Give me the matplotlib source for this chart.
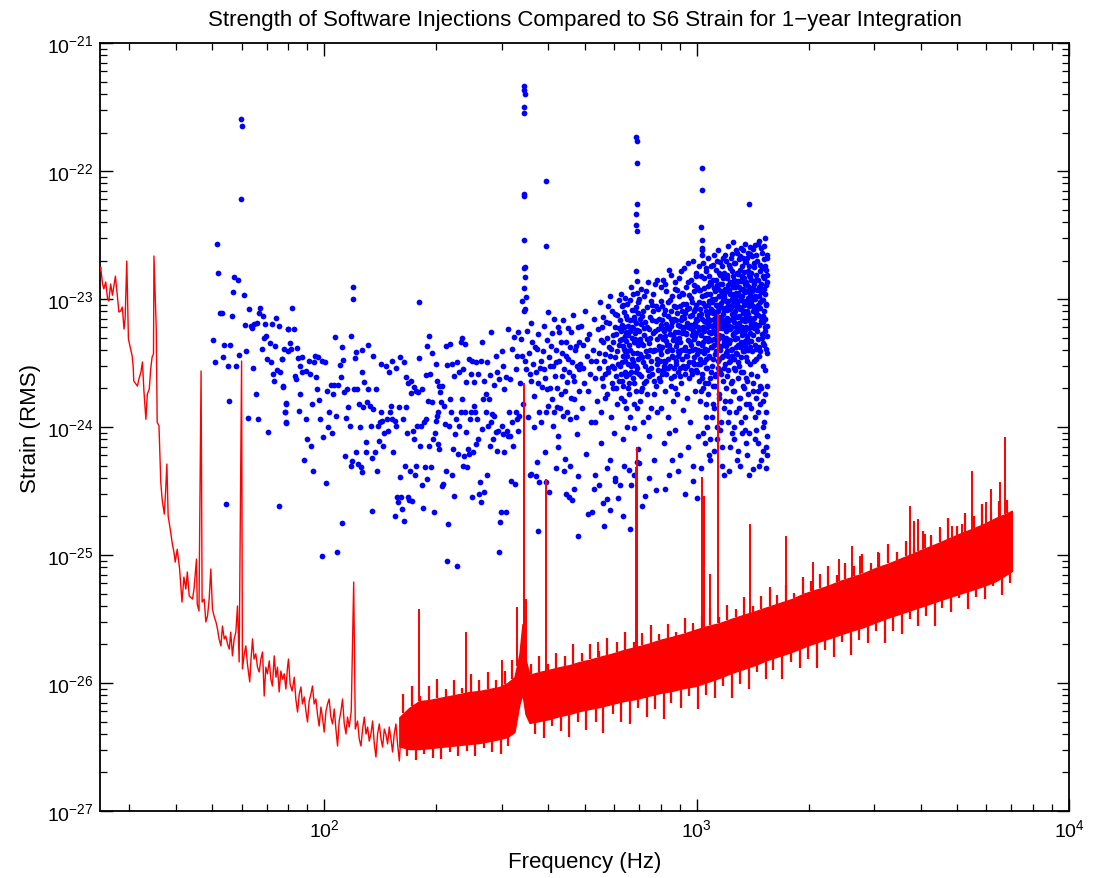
import matplotlib.pyplot as plt
import numpy as np

plt.rcParams['font.family'] = ['Liberation Sans', 'DejaVu Sans']
plt.rcParams['mathtext.fontset'] = 'custom'
plt.rcParams['mathtext.rm'] = 'Liberation Sans'
plt.rcParams['mathtext.it'] = 'Liberation Sans:italic'

# S6 strain noise, low frequency part (Hz, strain)
noise_low_freq = [25.0, 25.1, 25.4, 25.6, 25.9, 26.2, 26.4, 26.7, 27.0, 27.5, 27.8, 28.1, 28.4, 28.7,
                  29.0, 29.2, 29.5, 29.8, 30.2, 30.5, 30.7, 30.8, 31.2, 31.5, 31.8, 32.2, 32.5, 32.8,
                  33.2, 33.5, 33.9, 34.2, 34.5, 34.8, 34.9, 35.4, 35.6, 36.0, 36.4, 36.7, 37.2, 37.5,
                  37.8, 38.1, 38.7, 39.1, 39.5, 39.8, 40.3, 40.9, 41.5, 42.0, 42.5, 42.9, 43.4, 44.3,
                  44.7, 45.4, 45.6, 46.1, 46.7, 47.0, 47.6, 48.1, 48.6, 49.1, 49.6, 50.1, 50.6, 51.2,
                  51.7, 52.2, 52.8, 53.3, 53.9, 54.4, 55.0, 55.6, 56.1, 56.7, 57.3, 57.9, 58.5, 59.1,
                  60.0, 60.3, 61.0, 61.6, 62.2, 63.1, 63.6, 64.2, 64.8, 65.5, 66.2, 66.9, 67.6, 68.3,
                  69.0, 69.7, 70.4, 71.2, 71.9, 72.6, 73.4, 74.2, 74.9, 75.7, 76.5, 77.3, 78.1, 78.9,
                  79.7, 80.2, 81.0, 82.0, 83.1, 83.9, 84.8, 85.7, 86.6, 87.4, 88.4, 89.3, 90.2, 91.1,
                  92.1, 93.0, 94.0, 95.0, 95.9, 96.9, 98.0, 98.9, 100.0, 101.1, 102.1, 103.1, 104.2,
                  105.3, 106.4, 107.5, 108.6, 109.7, 110.9, 112.0, 113.2, 114.4, 115.5, 116.7, 118.2,
                  120.0, 121.2, 122.9, 124.2, 125.5, 126.8, 128.1, 129.5, 130.8, 132.1, 133.5, 134.9,
                  136.3, 137.7, 139.1, 140.6, 142.1, 143.5, 145.0, 146.6, 148.0, 149.5, 151.1, 152.6,
                  154.2, 155.8, 157.4, 159.1, 160.8]
noise_low_strain = [1.66e-23, 1.78e-23, 1.31e-23, 1.20e-23, 1.36e-23, 1.0e-23, 9.65e-24, 1.31e-23,
                    1.07e-23, 1.51e-23, 1.09e-23, 7.91e-24, 8.06e-24, 8.66e-24, 5.83e-24, 6.98e-24,
                    1.98e-23, 4.87e-24, 4.07e-24, 3.59e-24, 2.94e-24, 2.29e-24, 2.17e-24, 2.09e-24,
                    2.37e-24, 2.69e-24, 3.22e-24, 1.91e-24, 1.15e-24, 1.81e-24, 1.98e-24, 2.84e-24,
                    3.52e-24, 3.72e-24, 2.17e-23, 5.83e-24, 1.09e-24, 1.02e-24, 3.72e-25, 2.74e-25,
                    2.09e-25, 3.10e-25, 5.14e-25, 2.02e-25, 1.51e-25, 1.22e-25, 1.05e-25, 8.81e-26,
                    1.11e-25, 7.78e-26, 4.29e-26, 6.73e-26, 5.42e-26, 7.37e-26, 4.79e-26, 4.53e-26,
                    5.42e-26, 9.30e-26, 4.14e-26, 3.65e-26, 2.74e-24, 4.29e-26, 4.53e-26, 3.0e-26,
                    3.34e-26, 4.53e-26, 7.78e-26, 3.79e-26, 3.34e-26, 3.0e-26, 2.64e-26, 2.21e-26,
                    1.95e-26, 2.79e-26, 2.21e-26, 2.33e-26, 2.02e-26, 1.84e-26, 2.50e-26, 1.63e-26,
                    2.21e-26, 2.50e-26, 4.00e-26, 1.46e-26, 3.28e-24, 1.29e-26, 1.69e-26, 1.95e-26,
                    1.41e-26, 1.02e-26, 1.54e-26, 2.21e-26, 1.54e-26, 1.69e-26, 1.33e-26, 1.22e-26,
                    1.54e-26, 1.75e-26, 7.91e-27, 1.33e-26, 1.18e-26, 1.49e-26, 1.07e-26, 9.48e-27,
                    1.63e-26, 1.11e-26, 1.33e-26, 8.51e-27, 1.24e-26, 1.07e-26, 1.18e-26, 8.98e-27,
                    1.33e-26, 1.54e-26, 9.82e-27, 8.66e-27, 1.11e-26, 7.50e-27, 5.93e-27, 8.20e-27,
                    9.31e-27, 6.86e-27, 7.77e-27, 6.04e-27, 4.96e-27, 7.23e-27, 8.20e-27, 9.48e-27,
                    6.86e-27, 7.50e-27, 5.73e-27, 4.61e-27, 6.49e-27, 5.42e-27, 4.14e-27, 6.04e-27,
                    6.86e-27, 7.50e-27, 5.42e-27, 4.79e-27, 6.27e-27, 4.37e-27, 3.22e-27, 5.05e-27,
                    6.04e-27, 7.50e-27, 4.79e-27, 4.00e-27, 5.42e-27, 4.53e-27, 6.04e-27, 6.15e-26,
                    4.37e-27, 5.05e-27, 3.65e-27, 3.22e-27, 4.37e-27, 5.42e-27, 4.00e-27, 4.53e-27,
                    3.52e-27, 4.00e-27, 5.05e-27, 3.34e-27, 2.64e-27, 4.00e-27, 4.79e-27, 3.65e-27,
                    3.16e-27, 4.37e-27, 3.93e-27, 3.34e-27, 4.53e-27, 3.65e-27, 2.89e-27, 4.00e-27,
                    4.79e-27, 3.34e-27, 2.46e-27, 4.00e-27]

# S6 strain noise, dense part: upper and lower edge of the solid band
band_freq = [159.1, 169.2, 180.0, 191.6, 203.8, 216.8, 230.7, 245.4, 261.0, 277.6, 295.4, 310.4,
             324.2, 334.4, 340.7, 347.1, 355.8, 378.4, 402.5, 428.2, 455.5, 484.6, 515.6, 548.5,
             590.7, 636.5, 685.5, 738.5, 795.4, 856.6, 923.0, 993.8, 1070.5, 1153.1, 1242.1,
             1337.6, 1441.0, 1552.4, 1671.5, 1800.4, 1939.0, 2088.9, 2250.3, 2423.3, 2610.6,
             2812.3, 3028.7, 3261.6, 3513.9, 3784.4, 4075.4, 4390.8, 4728.3, 5093.1, 5485.2,
             5909.1, 6366.0, 6768.0, 7024.0]
band_upper = [5.4e-27, 6.4e-27, 7.23e-27, 7.36e-27, 7.64e-27, 7.91e-27, 8.20e-27, 8.51e-27,
              8.66e-27, 8.98e-27, 9.31e-27, 1.0e-26, 1.11e-26, 1.69e-26, 2.89e-26, 1.54e-26,
              1.16e-26, 1.22e-26, 1.27e-26, 1.33e-26, 1.38e-26, 1.46e-26, 1.52e-26, 1.60e-26,
              1.69e-26, 1.81e-26, 1.91e-26, 2.02e-26, 2.17e-26, 2.29e-26, 2.43e-26, 2.61e-26,
              2.79e-26, 2.94e-26, 3.18e-26, 3.41e-26, 3.65e-26, 3.93e-26, 4.22e-26, 4.53e-26,
              4.99e-26, 5.35e-26, 5.75e-26, 6.27e-26, 6.73e-26, 7.24e-26, 7.94e-26, 8.55e-26,
              9.35e-26, 1.02e-25, 1.12e-25, 1.22e-25, 1.34e-25, 1.47e-25, 1.60e-25, 1.75e-25,
              1.95e-25, 2.10e-25, 2.22e-25]
band_lower = [3.2e-27, 3.05e-27, 3.05e-27, 3.1e-27, 3.16e-27, 3.22e-27, 3.28e-27, 3.34e-27,
              3.40e-27, 3.52e-27, 3.65e-27, 3.79e-27, 4.14e-27, 6.86e-27, 8.20e-27, 5.73e-27,
              4.88e-27, 5.05e-27, 5.24e-27, 5.52e-27, 5.73e-27, 6.04e-27, 6.27e-27, 6.49e-27,
              6.86e-27, 7.23e-27, 7.50e-27, 7.91e-27, 8.35e-27, 8.66e-27, 9.14e-27, 9.48e-27,
              1.02e-26, 1.10e-26, 1.20e-26, 1.29e-26, 1.39e-26, 1.52e-26, 1.63e-26, 1.75e-26,
              1.91e-26, 2.07e-26, 2.22e-26, 2.39e-26, 2.57e-26, 2.74e-26, 2.99e-26, 3.24e-26,
              3.48e-26, 3.74e-26, 4.02e-26, 4.33e-26, 4.65e-26, 4.99e-26, 5.35e-26, 5.75e-26,
              6.27e-26, 7.0e-26, 7.5e-26]

# short noise excursions above and below the band
up_freq = [163.1, 172.4, 181.1, 191.6, 201.3, 212.8, 223.7, 235.1, 248.5, 261.0, 276.0, 290.0,
           306.6, 320.2, 360.2, 378.4, 400.0, 420.4, 444.4, 467.0, 493.7, 518.8, 548.5, 576.4,
           609.5, 640.4, 677.1, 711.5, 752.4, 790.5, 835.8, 878.4, 928.7, 975.9, 1032, 1084,
           1146, 1205, 1274, 1339, 1415, 1487, 1573, 1645, 1741, 1829, 1934, 2032, 2149, 2257,
           2387, 2508, 2652, 2786, 2946, 3097, 3275, 3443, 3641, 3827, 4047, 4254, 4498, 4728,
           5000, 5256, 5558, 5843, 6178, 6495, 6813]
up_val = [8.2e-27, 9.5e-27, 7.9e-27, 9.5e-27, 1.08e-26, 9.0e-27, 1.06e-26, 9.2e-27, 1.18e-26,
          1.06e-26, 1.23e-26, 1.06e-26, 1.25e-26, 1.50e-26, 1.42e-26, 1.64e-26, 1.42e-26, 1.73e-26,
          1.64e-26, 2.03e-26, 1.73e-26, 2.03e-26, 1.79e-26, 2.26e-26, 2.11e-26, 2.52e-26, 2.11e-26,
          2.48e-26, 2.86e-26, 2.43e-26, 2.91e-26, 2.52e-26, 3.24e-26, 2.96e-26, 3.35e-26, 3.88e-26,
          3.30e-26, 4.10e-26, 3.81e-26, 4.73e-26, 4.02e-26, 4.82e-26, 5.66e-26, 4.90e-26, 5.86e-26,
          5.08e-26, 6.78e-26, 6.27e-26, 7.14e-26, 8.23e-26, 7.0e-26, 8.7e-26, 8.23e-26, 1.02e-25,
          8.7e-26, 1.04e-25, 1.22e-25, 1.06e-25, 1.29e-25, 1.16e-25, 1.55e-25, 1.44e-25, 1.66e-25,
          1.95e-25, 1.69e-25, 2.14e-25, 2.03e-25, 2.51e-25, 2.18e-25, 2.65e-25, 2.70e-25]
down_freq = [167.0, 176.8, 185.7, 196.4, 206.4, 218.2, 229.3, 242.4, 254.7, 269.3, 282.9, 299.1,
             312.4, 369.2, 390.3, 410.1, 433.5, 455.5, 481.6, 506.1, 535.2, 562.3, 594.6, 624.7,
             660.5, 694.1, 734.0, 771.2, 815.5, 855.7, 906.0, 952.0, 1006, 1058, 1119, 1175, 1243,
             1306, 1380, 1451, 1535, 1602, 1696, 1789, 1894, 1988, 2102, 2211, 2339, 2457, 2597,
             2731, 2886, 3029, 3202, 3366, 3559, 3732, 3942, 4128, 4356, 4573, 4835, 5065, 5353,
             5626, 5947, 6252, 6607, 6940]
down_val = [2.69e-27, 2.5e-27, 2.8e-27, 2.6e-27, 2.55e-27, 2.9e-27, 2.7e-27, 2.95e-27, 2.7e-27,
            3.1e-27, 2.9e-27, 2.8e-27, 3.2e-27, 4.0e-27, 3.7e-27, 4.6e-27, 4.2e-27, 3.8e-27, 5.0e-27,
            4.3e-27, 5.0e-27, 4.1e-27, 5.7e-27, 5.0e-27, 4.8e-27, 6.4e-27, 5.4e-27, 6.3e-27, 5.2e-27,
            7.0e-27, 6.4e-27, 7.9e-27, 6.3e-27, 8.0e-27, 7.6e-27, 9.5e-27, 7.6e-27, 9.8e-27,
            9.0e-27, 1.22e-26, 1.08e-26, 1.27e-26, 1.08e-26, 1.46e-26, 1.32e-26, 1.55e-26, 1.30e-26,
            1.80e-26, 1.61e-26, 2.08e-26, 1.67e-26, 2.18e-26, 2.06e-26, 2.54e-26, 2.07e-26, 2.55e-26,
            2.43e-26, 3.16e-26, 2.80e-26, 3.35e-26, 2.80e-26, 3.85e-26, 3.60e-26, 4.60e-26, 3.82e-26,
            4.72e-26, 4.50e-26, 5.75e-26, 4.90e-26, 6.10e-26]

# narrow lines sticking out of the band (Hz, peak strain)
line_freq = [180, 240, 300, 329, 343, 345, 348, 394, 542, 686, 693, 1031, 1044, 1084, 1141,
             1388, 1741, 2050, 2409, 2606, 2742, 3061, 3737, 3831, 3929, 4102, 4838, 5157, 5483,
             5984, 6160, 6512, 6730]
line_peak = [3.8e-26, 2.5e-26, 1.5e-26, 3.9e-26, 1.6e-24, 2.2e-24, 4.5e-26, 3.9e-25, 2.1e-26,
             4.9e-25, 7.0e-25, 4.1e-25, 2.9e-25, 7.1e-26, 7.6e-24, 1.75e-25, 1.4e-25, 8.8e-26,
             9.3e-26, 1.18e-25, 9.8e-26, 1.05e-25, 2.4e-25, 1.84e-25, 1.9e-25, 1.46e-25, 1.69e-25,
             1.75e-25, 4.5e-25, 2.6e-25, 3.3e-25, 3.7e-25, 8.3e-25]

# software injections: (frequency Hz, strain in units of 1e-24)
inj_50_80 = [(50.4, 4.8), (51.0, 3.2), (51.4, 27), (51.9, 16), (52.5, 7.8), (53.0, 7.8), (53.4, 3.5),
             (53.9, 4.4), (55.0, 3.0), (55.6, 1.6), (54.4, 0.25), (55.9, 4.4), (56.5, 7.4),
             (56.9, 11.3), (57.4, 14.9), (58.5, 14.1), (58.0, 3.0), (59.0, 3.65), (59.9, 255),
             (60.2, 225), (59.9, 60), (61.0, 10.7), (61.4, 6.3), (61.8, 3.9), (62.5, 1.18),
             (62.9, 8.35), (63.5, 6.15), (63.9, 5.9), (64.4, 2.9), (64.8, 6.4), (65.8, 6.5),
             (65.4, 1.8), (66.5, 1.15), (66.9, 7.8), (67.3, 8.5), (67.9, 4.1), (68.4, 7.4), (68.8, 5.0),
             (69.7, 5.15), (69.4, 6.4), (70.4, 3.4), (70.8, 0.91), (71.5, 4.5), (71.9, 3.2), (72.3, 6.4),
             (72.9, 2.6), (73.4, 2.3), (73.8, 4.3), (74.4, 7.1), (74.9, 2.8), (76.2, 2.7), (75.4, 0.24),
             (75.8, 6.15), (77.0, 3.4), (77.3, 2.1), (78.1, 4.1), (78.4, 1.3), (78.9, 1.07),
             (79.2, 1.5), (79.9, 5.8), (80.0, 3.9)]
inj_80_115 = [(77.1, 3.40), (77.6, 2.05), (78.6, 1.30), (79.1, 1.09), (79.1, 1.54), (80.0, 5.83),
              (81.0, 4.52), (81.5, 4.07), (82.0, 8.5), (83.1, 5.83), (83.6, 2.50), (84.2, 2.37),
              (84.7, 4.15), (85.2, 3.46), (85.7, 1.33), (86.2, 3.0), (86.2, 1.81), (87.2, 2.70),
              (87.2, 3.5), (88.4, 0.555), (89.4, 2.75), (89.4, 1.16), (90.0, 0.81), (91.1, 3.27),
              (91.7, 2.60), (92.3, 0.71), (92.9, 1.51), (93.4, 0.455), (94.0, 3.22), (94.6, 3.6),
              (95.2, 2.46), (95.8, 1.98), (96.3, 3.5), (96.9, 1.63), (97.5, 1.16), (98.8, 0.098),
              (98.8, 3.27), (99.4, 0.84), (100.6, 3.22), (101.2, 0.365), (101.9, 1.91), (102.5, 1.0),
              (103.1, 1.30), (104.4, 2.13), (105.1, 0.90), (105.7, 1.81), (106.4, 2.13), (107.1, 5.05),
              (107.7, 1.22), (108.4, 0.106), (109.0, 2.13), (110.4, 3.05), (111.1, 2.46),
              (111.8, 0.178), (111.8, 4.22), (112.5, 3.33), (113.2, 1.88), (113.9, 0.59), (114.6, 1.18)]
inj_115_215 = [(115.3, 1.98), (116.0, 1.44), (117.4, 1.02), (118.2, 0.50), (118.2, 5.15), (118.9, 0.545),
               (119.6, 10.0), (119.6, 12.4), (120.4, 1.98), (121.1, 3.46), (121.9, 0.64), (121.9, 3.86),
               (122.7, 1.98), (123.4, 0.516), (124.2, 1.51), (125.0, 1.0), (125.7, 0.49), (126.5, 0.446),
               (126.5, 2.7), (127.3, 1.44), (128.1, 2.25), (129.7, 0.77), (129.7, 0.64), (130.5, 1.57),
               (131.3, 1.98), (132.9, 1.46), (133.7, 1.02), (134.6, 0.222), (134.6, 0.575), (135.4, 1.38),
               (137.1, 0.64), (137.9, 1.98), (138.8, 0.45), (139.7, 1.02), (140.6, 0.78), (141.4, 1.10),
               (142.3, 1.30), (143.2, 1.12), (144.1, 0.71), (145.0, 0.90), (146.8, 3.0), (147.7, 1.16),
               (148.6, 0.93), (149.5, 2.7), (150.4, 1.30), (151.4, 1.45), (152.3, 1.16), (153.2, 0.64),
               (155.2, 1.12), (155.2, 0.20), (156.2, 1.02), (157.1, 0.285), (158.1, 0.26), (159.1, 1.44),
               (160.1, 0.41), (161.1, 0.285), (162.1, 0.23), (163.1, 1.16), (164.1, 0.185), (165.1, 0.50),
               (166.1, 1.44), (167.1, 0.90), (168.2, 0.285), (169.2, 0.27), (170.3, 0.45), (171.4, 2.28),
               (172.4, 0.265), (173.5, 0.93), (174.6, 0.81), (175.7, 0.42), (176.8, 0.50), (177.8, 1.02),
               (178.9, 1.88), (180.0, 9.5), (181.1, 0.71), (182.3, 1.02), (183.4, 0.353), (184.6, 0.234),
               (185.7, 1.10), (186.9, 0.49), (188.0, 1.16), (189.2, 0.394), (190.4, 1.60), (191.6, 0.71),
               (192.8, 2.6), (194.0, 0.49), (195.2, 1.57), (196.4, 0.81), (197.6, 0.218), (198.8, 0.90),
               (200.0, 1.12), (201.3, 1.22), (201.8, 1.30), (202.5, 0.74), (203.8, 0.675), (205.1, 1.88),
               (206.4, 1.57), (207.6, 0.347), (208.9, 0.36), (210.2, 1.46), (211.5, 1.06),
               (142.3, 3.1), (152.3, 3.3), (156.2, 2.9), (160.1, 3.5), (135.4, 3.6), (131.3, 4.4),
               (126.5, 4.0)]
inj_215_335 = [(212.8, 0.45), (214.2, 0.090), (215.5, 0.175), (216.8, 1.02), (218.2, 1.66), (219.6, 1.30),
               (220.9, 0.42), (221.5, 0.675), (223.7, 0.29), (225.1, 0.884), (226.5, 1.16), (227.9, 0.082),
               (229.3, 0.617), (230.7, 1.02), (233.6, 1.30), (235.1, 1.66), (236.5, 0.50), (238.0, 0.59),
               (239.5, 1.30), (240.9, 0.92), (242.4, 0.49), (243.9, 0.675), (245.4, 0.617), (247.0, 1.16),
               (248.5, 1.30), (250.1, 0.285), (251.6, 0.64), (253.2, 1.46), (254.7, 1.30), (256.3, 0.739),
               (257.9, 1.16), (259.4, 0.81), (261.0, 0.30), (262.7, 0.37), (264.3, 0.26), (266.0, 0.97),
               (267.6, 1.66), (269.3, 0.31), (272.6, 1.30), (274.3, 0.42), (276.0, 1.02), (277.6, 1.66),
               (279.4, 0.71), (281.2, 1.10), (282.9, 1.27), (284.7, 0.81), (286.4, 1.22), (289.9, 0.92),
               (291.7, 0.65), (293.5, 0.93), (295.4, 0.106), (297.2, 0.18), (299.1, 0.218), (300.9, 1.02),
               (302.8, 0.884), (304.7, 0.64), (308.5, 0.218), (310.4, 0.93), (312.4, 0.85), (314.3, 1.30),
               (316.3, 0.85), (318.2, 0.38), (320.2, 1.10), (322.2, 0.71), (326.2, 0.36), (328.2, 1.30),
               (330.3, 1.16), (332.3, 0.93), (334.4, 1.22)]
inj_upper_165_335 = [(164.1, 3.22), (166.1, 2.46), (168.2, 2.2), (171.4, 1.85), (174.6, 2.06), (176.8, 1.91),
                     (180.0, 3.46), (183.4, 1.98), (188.0, 2.55), (189.2, 4.3), (191.6, 5.15), (195.2, 3.78),
                     (200.0, 3.11), (201.3, 2.28), (203.8, 2.09), (207.6, 2.09), (212.8, 4.3), (214.2, 3.05),
                     (218.2, 4.45), (220.9, 3.11), (223.7, 2.50), (227.9, 3.22), (230.7, 2.70), (233.6, 4.6),
                     (235.1, 5.0), (236.5, 2.84), (239.5, 4.45), (240.9, 2.25), (245.4, 3.40), (248.5, 2.60),
                     (250.1, 3.3), (253.2, 2.25), (256.3, 3.22), (259.4, 2.60), (264.3, 3.3), (266.0, 4.6),
                     (269.3, 2.28), (272.6, 1.81), (274.3, 3.22), (279.4, 2.55), (281.2, 5.5), (286.4, 2.13),
                     (289.9, 3.6), (291.7, 2.70), (295.4, 2.37), (300.9, 3.9), (301.8, 3.0), (304.7, 1.98),
                     (308.5, 2.46), (312.4, 5.83), (316.3, 2.37), (320.2, 4.07), (324.2, 5.05), (328.2, 2.84),
                     (330.3, 3.6), (332.3, 5.5)]
inj_335_485 = [(338.2, 4.87), (340.2, 3.6), (348.6, 2.84), (355.8, 3.8), (360.2, 2.28), (362.5, 4.6),
               (367.0, 1.75), (371.5, 2.70), (373.8, 4.07), (378.4, 1.30), (383.1, 3.3), (385.5, 2.05),
               (390.3, 2.84), (395.1, 1.30), (397.5, 1.98), (400.0, 7.9), (405.0, 3.0), (407.6, 4.3),
               (410.1, 1.66), (412.7, 1.02), (415.2, 6.98), (417.8, 2.50), (420.4, 3.22), (423.0, 1.44),
               (425.6, 0.85), (428.2, 5.5), (433.5, 1.81), (436.2, 3.8), (437.5, 1.22), (441.7, 2.84),
               (444.4, 0.564), (447.1, 4.6), (449.9, 2.25), (452.7, 3.40), (455.5, 0.285), (458.3, 1.16),
               (461.2, 5.5), (464.0, 0.27), (466.9, 2.50), (469.9, 1.66), (475.7, 4.3), (478.6, 0.884),
               (480.0, 0.142), (481.6, 0.415), (483.0, 2.84), (376.1, 0.155), (402.5, 0.31), (378.4, 0.373),
               (373.8, 0.53), (371.5, 0.415), (392.7, 0.64),
               (336, 2.2), (341, 1.5), (346, 3.3), (350, 5.6), (352, 1.2), (357, 2.6), (359, 6.5), (364, 3.1),
               (366, 1.0), (369, 4.2), (374, 2.2), (376, 5.3), (380, 2.9), (382, 1.1), (387, 3.9), (389, 6.2),
               (392, 2.4), (396, 4.8), (399, 1.45), (402, 3.5), (404, 2.0), (409, 5.4), (411, 3.0), (414, 1.3),
               (418, 4.0), (421, 2.0), (424, 6.0), (427, 3.3), (430, 1.4), (432, 4.6), (435, 2.5), (439, 6.8),
               (442, 1.9), (445, 3.6), (448, 1.3), (451, 5.9), (454, 2.7), (457, 4.2), (460, 1.7), (463, 3.2),
               (465, 7.5), (468, 2.3), (471, 4.0), (473, 1.2), (477, 3.0), (479, 6.1), (482, 1.9), (484, 4.6),
               (424, 0.7), (440, 0.45), (456, 0.5), (470, 0.33), (395, 0.37), (360, 0.43), (356, 0.42),
               (418, 0.48), (447, 0.3)]
inj_tall_columns = [(345, 460), (344, 430), (346, 400), (345, 316), (345, 284), (344, 66), (345, 64),
                    (345, 29), (343, 17.5), (347, 17.8), (347, 14.9), (344, 12.2), (349, 10.4), (339, 9.6),
                    (344, 8.1), (346, 8.4), (394, 84), (394, 26),
                    (688, 185), (693, 171), (693, 115), (693, 55), (689, 46), (689, 38), (690, 34),
                    (689, 16.6), (690, 13.8), (691, 11.1),
                    (1031, 105), (1033, 71), (1030, 36.5), (1032, 29), (1034, 24), (1031, 22), (1386, 55)]
inj_485_620 = [(487, 3.1), (489, 6.2), (492, 1.4), (496, 4.4), (499, 2.2), (503, 8.1), (505, 0.62), (507, 3.6),
               (511, 1.9), (515, 5.3), (518, 2.6), (522, 1.1), (526, 4.0), (529, 7.0), (531, 0.33), (533, 2.4),
               (537, 3.3), (540, 1.6), (544, 5.8), (548, 2.9), (551, 9.5), (553, 0.75), (555, 1.3), (559, 4.6),
               (562, 2.1), (566, 3.7), (570, 6.6), (573, 1.8), (575, 0.48), (577, 2.7), (581, 4.2),
               (584, 10.5), (588, 1.2), (592, 3.0), (595, 5.2), (597, 2.0), (599, 0.9), (603, 7.6), (606, 2.5),
               (610, 3.9), (613, 1.5), (615, 0.28), (617, 5.9), (620, 2.3), (494, 2.9), (509, 4.9), (520, 3.3),
               (535, 1.1), (546, 3.8), (557, 6.0), (568, 2.6), (579, 8.8), (590, 4.1), (601, 2.9), (608, 5.3),
               (619, 9.8), (512, 0.21), (564, 0.17), (586, 0.55), (604, 0.38), (525, 0.215), (559, 0.255),
               (584, 0.226), (576, 0.275), (548, 0.355), (532, 0.42),
               (552, 4.8), (556, 2.4), (561, 7.2), (565, 3.3), (569, 1.7), (574, 5.0), (578, 2.9), (583, 6.5),
               (587, 3.6), (591, 8.0), (594, 2.2), (598, 4.6), (602, 6.0), (605, 3.5), (609, 2.0), (612, 7.5),
               (616, 3.1), (618, 4.4)]
inj_620_800 = [(623, 4.8), (625, 1.7), (627, 11.0), (629, 3.2), (631, 6.3), (633, 2.1), (636, 0.8), (638, 4.1),
               (640, 7.9), (642, 2.7), (645, 1.4), (647, 5.5), (649, 3.6), (652, 9.2), (654, 2.0), (657, 0.46),
               (659, 4.4), (661, 6.9), (664, 1.2), (666, 3.0), (668, 12.5), (671, 5.0), (673, 2.4), (676, 3.8),
               (678, 0.98), (681, 7.3), (683, 4.6), (686, 1.9), (688, 8.6), (691, 2.9), (693, 5.7), (696, 0.67),
               (698, 3.4), (701, 10.0), (703, 1.6), (706, 4.9), (709, 2.5), (711, 6.4), (714, 3.5), (716, 1.1),
               (719, 8.1), (722, 2.2), (724, 5.2), (727, 0.29), (730, 3.9), (732, 11.5), (735, 1.8), (738, 6.0),
               (741, 2.8), (743, 4.5), (746, 0.85), (749, 7.2), (752, 3.3), (755, 1.4), (758, 9.0), (761, 2.6),
               (764, 5.4), (767, 0.55), (770, 4.0), (773, 13.0), (776, 2.1), (779, 6.7), (782, 3.1), (785, 1.3),
               (788, 8.4), (791, 4.3), (794, 2.4), (634, 0.2), (665, 0.35), (712, 0.24), (745, 0.4),
               (780, 0.32), (700, 0.52), (628, 2.6), (644, 3.9), (660, 2.2), (675, 5.9), (690, 3.8),
               (705, 7.0), (720, 4.4), (736, 3.6), (750, 5.0), (765, 8.0), (784, 4.9), (650, 1.0), (680, 1.5),
               (710, 1.9), (740, 1.2), (770, 1.8), (661, 0.16), (621, 0.355), (602, 0.40), (677, 0.42),
               (690, 0.53), (640, 0.50),
               (622, 3.0), (626, 5.6), (630, 2.3), (632, 8.8), (635, 4.3), (637, 1.6), (639, 6.1), (641, 3.3),
               (643, 10.2), (646, 2.5), (648, 4.7), (651, 7.0), (653, 3.1), (655, 5.2), (658, 1.8), (662, 4.0),
               (663, 9.9), (667, 2.7), (669, 6.0), (672, 3.4), (674, 11.0), (677, 4.6), (679, 2.2), (682, 5.4),
               (684, 8.2), (687, 3.0), (689, 6.5), (692, 1.4), (694, 4.4), (697, 9.4), (699, 2.6), (702, 5.6),
               (704, 3.7), (707, 12.0), (710, 4.5), (713, 2.0), (715, 7.4), (718, 3.2), (721, 5.9), (723, 10.5),
               (726, 3.0), (728, 6.6), (731, 2.3), (734, 4.9), (737, 8.6), (739, 3.6), (742, 13.5), (744, 2.5),
               (747, 5.8), (751, 4.0), (753, 9.7), (756, 2.9), (759, 6.8), (762, 3.9), (766, 11.0), (768, 2.3),
               (771, 5.6), (774, 4.0), (777, 8.9), (781, 3.4), (783, 14.0), (786, 5.8), (789, 2.8), (792, 7.0),
               (624, 6.8), (629, 4.9), (633, 9.0), (636, 3.6), (641, 5.1), (645, 7.4), (650, 3.9), (656, 6.2),
               (659, 2.6), (664, 5.6), (670, 8.2), (674, 3.2), (678, 6.9), (685, 4.9), (688, 2.7), (695, 7.8),
               (699, 4.7)]
inj_800_1020 = [(796, 5.1), (798, 2.3), (800, 9.6), (802, 3.7), (804, 1.4), (806, 6.8), (808, 4.2), (810, 14.0),
                (812, 2.8), (815, 0.75), (817, 5.6), (819, 3.3), (821, 8.2), (823, 1.9), (826, 4.7), (828, 11.5),
                (830, 2.6), (832, 6.1), (835, 3.9), (837, 1.2), (839, 7.4), (841, 4.4), (844, 0.42), (846, 9.9),
                (848, 3.0), (850, 5.3), (853, 2.1), (855, 15.5), (857, 4.0), (860, 6.6), (862, 1.6), (864, 3.5),
                (867, 8.8), (869, 5.0), (871, 2.5), (874, 0.95), (876, 12.0), (878, 4.3), (881, 6.9), (883, 3.1),
                (885, 1.8), (888, 7.8), (890, 5.5), (893, 2.7), (895, 10.5), (897, 3.8), (900, 0.6), (902, 6.2),
                (905, 4.6), (907, 16.5), (909, 2.2), (912, 8.0), (914, 3.4), (917, 5.8), (919, 1.35), (922, 11.0),
                (924, 4.1), (927, 7.1), (929, 2.9), (932, 0.3), (934, 5.4), (937, 9.1), (939, 3.6), (942, 6.5),
                (944, 1.7), (947, 13.5), (949, 4.8), (952, 2.4), (954, 8.5), (957, 3.9), (959, 5.9), (962, 1.1),
                (965, 10.2), (967, 4.4), (970, 7.5), (972, 2.6), (975, 0.5), (977, 6.0), (980, 3.2), (983, 12.8),
                (985, 4.9), (988, 1.9), (990, 8.3), (993, 5.1), (996, 2.8), (998, 15.0), (1001, 3.7), (1004, 6.8),
                (1006, 0.85), (1009, 4.5), (1012, 9.5), (1014, 2.3), (1017, 5.7), (799, 4.0), (811, 5.8),
                (825, 3.2), (838, 2.9), (851, 7.0), (863, 5.2), (877, 2.0), (889, 3.6), (903, 2.5), (916, 7.2),
                (930, 4.0), (943, 3.0), (956, 6.3), (969, 5.2), (982, 3.5), (995, 7.0), (1008, 3.1),
                (1018, 11.8), (820, 0.33), (858, 0.55), (892, 0.45), (948, 0.7), (978, 0.38), (1003, 0.28),
                (842, 0.9),
                (797, 3.3), (801, 6.3), (803, 12.5), (807, 2.6), (809, 8.9), (813, 4.9), (816, 3.0), (818, 7.6),
                (822, 5.1), (824, 13.0), (827, 2.9), (829, 6.4), (833, 4.4), (836, 9.5), (840, 3.4), (843, 5.8),
                (845, 17.0), (849, 4.1), (852, 8.1), (854, 2.4), (856, 6.2), (859, 3.6), (861, 10.5), (865, 4.8),
                (868, 7.0), (870, 2.9), (873, 13.5), (875, 5.5), (879, 3.3), (880, 8.7), (884, 4.6), (886, 11.8),
                (891, 6.3), (894, 3.9), (896, 14.5), (899, 5.0), (901, 8.9), (904, 2.9), (906, 6.8), (910, 4.0),
                (911, 11.2), (915, 5.4), (918, 3.0), (920, 9.2), (923, 6.1), (925, 17.5), (928, 4.2), (931, 7.8),
                (933, 2.6), (936, 12.5), (938, 5.3), (941, 3.6), (945, 8.4), (946, 19.0), (950, 6.0), (953, 3.2),
                (955, 10.8), (958, 4.6), (961, 7.4), (963, 14.0), (966, 2.8), (968, 6.3), (971, 9.4), (974, 4.0),
                (976, 20.0), (979, 5.6), (981, 8.0), (984, 3.1), (987, 11.5), (989, 6.5), (992, 4.1), (994, 16.0),
                (997, 5.4), (999, 9.0), (1002, 2.7), (1005, 12.5), (1007, 6.0), (1010, 4.0), (1013, 18.0),
                (1016, 7.5), (1019, 3.4)]
inj_1020_1200 = [(1021, 8.4), (1023, 3.1), (1025, 15.0), (1027, 5.2), (1029, 1.9), (1031, 10.5), (1033, 4.4),
                 (1035, 7.0), (1037, 2.6), (1039, 19.0), (1041, 6.1), (1043, 0.9), (1045, 3.8), (1047, 12.2),
                 (1049, 5.6), (1051, 2.2), (1053, 8.9), (1055, 4.1), (1057, 16.5), (1059, 6.6), (1061, 1.5),
                 (1063, 3.4), (1065, 11.0), (1067, 7.5), (1069, 2.9), (1071, 5.0), (1073, 21.0), (1075, 4.7),
                 (1077, 0.6), (1079, 9.6), (1081, 3.6), (1083, 6.3), (1085, 13.5), (1087, 2.4), (1089, 7.9),
                 (1091, 4.2), (1093, 18.0), (1095, 5.4), (1097, 1.2), (1099, 10.0), (1026, 0.48), (1056, 0.75),
                 (1084, 0.55), (1036, 25.0), (1066, 1.0),
                 (1101, 6.2), (1103, 3.0), (1105, 14.0), (1107, 8.1), (1109, 2.1), (1111, 4.9), (1113, 22.0),
                 (1115, 7.0), (1117, 1.4), (1119, 11.5), (1121, 5.5), (1123, 3.7), (1125, 17.0), (1127, 9.0),
                 (1129, 2.6), (1131, 6.8), (1133, 0.8), (1135, 12.8), (1137, 4.5), (1139, 8.6), (1141, 24.0),
                 (1143, 3.3), (1145, 5.9), (1147, 1.8), (1149, 10.5), (1151, 7.3), (1153, 15.5), (1155, 2.8),
                 (1157, 4.0), (1159, 19.5), (1161, 6.4), (1163, 1.1), (1165, 9.3), (1167, 3.5), (1169, 13.0),
                 (1171, 5.1), (1173, 0.5), (1175, 7.7), (1177, 21.0), (1179, 2.3), (1181, 11.0), (1183, 4.6),
                 (1185, 8.2), (1187, 16.0), (1189, 3.1), (1191, 6.0), (1193, 1.6), (1195, 12.0), (1197, 5.0),
                 (1199, 9.7), (1112, 0.65), (1158, 0.95), (1186, 0.42),
                 (1022, 5.8), (1024, 11.8), (1028, 3.9), (1030, 7.6), (1034, 2.4), (1038, 9.3), (1040, 4.6),
                 (1044, 14.5), (1046, 6.7), (1050, 3.2), (1052, 10.8), (1054, 5.0), (1058, 8.0), (1060, 2.9),
                 (1062, 17.5), (1064, 6.0), (1068, 4.0), (1070, 12.6), (1072, 7.0), (1074, 2.2), (1076, 9.0),
                 (1078, 5.5), (1080, 15.0), (1082, 3.5), (1086, 6.9), (1088, 11.0), (1090, 4.8), (1092, 8.3),
                 (1094, 2.7), (1096, 13.0), (1098, 6.2), (1100, 4.2), (1102, 9.4), (1104, 5.6), (1106, 18.5),
                 (1108, 3.4), (1110, 7.8), (1114, 12.3), (1116, 4.4), (1118, 6.5), (1120, 2.5), (1122, 10.0),
                 (1124, 5.3), (1126, 14.0), (1128, 7.5), (1130, 3.9), (1132, 20.0), (1134, 6.0), (1136, 9.0),
                 (1138, 2.9), (1140, 12.0), (1142, 4.9), (1144, 8.1), (1146, 16.0), (1148, 5.2), (1150, 3.4),
                 (1152, 10.6), (1154, 6.8), (1156, 13.0), (1160, 4.3), (1162, 8.6), (1164, 2.6), (1166, 11.5),
                 (1168, 5.9), (1170, 18.0), (1172, 7.0), (1174, 3.6), (1176, 9.8), (1178, 5.0), (1180, 14.5),
                 (1182, 6.4), (1184, 2.9), (1188, 10.4), (1190, 4.7), (1192, 8.5), (1194, 22.0), (1196, 3.8),
                 (1198, 6.9),
                 (1024, 1.6), (1042, 2.0), (1058, 1.2), (1070, 1.8), (1088, 0.8), (1104, 1.5), (1118, 2.1),
                 (1134, 1.0), (1150, 1.7), (1168, 0.7), (1182, 1.4), (1196, 2.0)]
inj_1200_1400 = [(1201, 20.0), (1203, 4.3), (1205, 7.1), (1207, 2.5), (1209, 14.5), (1211, 9.0), (1213, 3.6),
                 (1215, 5.8), (1217, 26.0), (1219, 1.3), (1221, 11.8), (1223, 6.9), (1225, 3.2), (1227, 17.5),
                 (1229, 8.4), (1231, 4.8), (1233, 0.7), (1235, 13.2), (1237, 6.1), (1239, 2.2), (1241, 22.5),
                 (1243, 10.0), (1245, 4.1), (1247, 7.6), (1249, 1.9), (1251, 15.0), (1253, 5.3), (1255, 9.8),
                 (1257, 3.4), (1259, 19.0), (1261, 6.6), (1263, 1.0), (1265, 12.5), (1267, 8.0), (1269, 2.8),
                 (1271, 4.9), (1273, 24.0), (1275, 7.2), (1277, 3.8), (1279, 11.2), (1281, 0.55), (1283, 16.0),
                 (1285, 5.6), (1287, 9.1), (1289, 2.4), (1291, 13.8), (1293, 6.3), (1295, 4.4), (1297, 20.5),
                 (1299, 8.7), (1222, 0.45), (1262, 0.8), (1296, 1.4), (1250, 28.0),
                 (1301, 3.0), (1303, 10.8), (1305, 6.0), (1307, 17.0), (1309, 1.7), (1311, 8.3), (1313, 4.6),
                 (1315, 25.0), (1317, 12.0), (1319, 2.7), (1321, 7.0), (1323, 14.8), (1325, 5.2), (1327, 0.9),
                 (1329, 9.6), (1331, 21.0), (1333, 3.9), (1335, 6.8), (1337, 11.5), (1339, 2.0), (1341, 16.2),
                 (1343, 8.0), (1345, 4.3), (1347, 27.0), (1349, 5.7), (1351, 1.2), (1353, 13.0), (1355, 7.4),
                 (1357, 3.5), (1359, 19.5), (1361, 9.2), (1363, 0.6), (1365, 5.0), (1367, 12.8), (1369, 2.3),
                 (1371, 23.0), (1373, 6.9), (1375, 10.2), (1377, 4.0), (1379, 15.5), (1381, 1.5), (1383, 8.8),
                 (1385, 18.0), (1387, 5.4), (1389, 3.1), (1391, 11.0), (1393, 25.5), (1395, 7.1), (1397, 2.6),
                 (1399, 14.0), (1310, 0.5), (1354, 0.75), (1380, 0.42),
                 (1200, 11.5), (1202, 5.6), (1204, 15.5), (1206, 3.9), (1208, 8.2), (1210, 4.9), (1212, 12.8),
                 (1214, 6.3), (1216, 2.8), (1218, 9.6), (1220, 18.5), (1224, 4.5), (1226, 10.9), (1228, 5.8),
                 (1230, 13.5), (1232, 3.3), (1234, 8.7), (1236, 21.0), (1238, 6.0), (1240, 4.0), (1242, 11.0),
                 (1244, 7.0), (1246, 16.5), (1248, 3.6), (1252, 9.2), (1254, 5.2), (1256, 12.5), (1258, 7.6),
                 (1260, 2.9), (1264, 14.0), (1266, 5.5), (1268, 10.2), (1270, 19.0), (1272, 4.2), (1274, 8.9),
                 (1276, 6.1), (1278, 13.0), (1280, 3.7), (1282, 9.4), (1284, 23.0), (1286, 5.0), (1288, 11.2),
                 (1290, 7.3), (1292, 3.2), (1294, 15.8), (1298, 6.5), (1300, 12.5), (1302, 7.4), (1304, 4.2),
                 (1306, 21.5), (1308, 9.8), (1312, 5.6), (1314, 13.8), (1316, 3.5), (1318, 8.5), (1320, 18.0),
                 (1322, 6.1), (1324, 10.5), (1326, 4.4), (1328, 15.0), (1330, 7.8), (1332, 2.7), (1334, 12.0),
                 (1336, 24.0), (1338, 5.4), (1340, 9.0), (1342, 3.9), (1344, 14.5), (1346, 6.7), (1348, 11.3),
                 (1350, 19.5), (1352, 4.7), (1356, 9.7), (1358, 6.0), (1360, 13.5), (1362, 3.3), (1364, 21.0),
                 (1366, 8.1), (1368, 5.1), (1370, 11.8), (1374, 16.5), (1376, 4.6), (1378, 7.6), (1382, 12.5),
                 (1384, 5.9), (1388, 9.6), (1390, 22.5), (1392, 4.2), (1394, 14.8), (1396, 6.4), (1398, 10.2),
                 (1212, 1.1), (1228, 1.6), (1246, 0.9), (1258, 1.9), (1274, 1.3), (1288, 0.65), (1302, 1.7),
                 (1318, 1.1), (1332, 2.1), (1346, 0.95), (1358, 1.5), (1372, 1.8), (1386, 0.9), (1356, 2.4),
                 (1244, 2.3)]
inj_1400_1550 = [(1401, 9.5), (1404, 4.7), (1407, 21.5), (1410, 6.5), (1413, 1.9), (1416, 12.2), (1419, 8.1),
                 (1422, 3.3), (1425, 17.8), (1428, 5.9), (1431, 0.8), (1434, 10.6), (1437, 26.5), (1440, 4.1),
                 (1443, 7.8), (1446, 14.2), (1449, 2.5), (1452, 6.2), (1455, 19.8), (1458, 9.0), (1461, 1.3),
                 (1464, 4.9), (1467, 12.5), (1470, 28.5), (1473, 3.6), (1476, 8.5), (1479, 16.5), (1482, 2.1),
                 (1485, 6.7), (1488, 0.55), (1491, 11.4), (1494, 23.0), (1497, 5.3), (1500, 9.9), (1503, 3.0),
                 (1506, 15.0), (1509, 7.4), (1512, 1.6), (1515, 20.5), (1518, 4.4), (1521, 12.0), (1524, 30.0),
                 (1527, 6.0), (1530, 2.8), (1533, 9.2), (1536, 17.0), (1539, 0.7), (1542, 5.1), (1545, 13.5),
                 (1548, 3.8), (1550, 22.0), (1415, 0.47), (1445, 0.95), (1475, 0.5), (1505, 0.65),
                 (1535, 0.48), (1547, 0.85), (1520, 1.1),
                 (1402, 16.0), (1405, 6.9), (1408, 11.5), (1411, 3.9), (1414, 24.5), (1417, 8.8), (1420, 5.2),
                 (1423, 13.0), (1426, 7.1), (1429, 19.0), (1432, 4.4), (1435, 10.0), (1438, 6.4), (1441, 15.5),
                 (1444, 3.4), (1447, 22.0), (1450, 8.4), (1453, 11.8), (1456, 5.6), (1459, 14.0), (1462, 7.5),
                 (1465, 27.0), (1468, 4.2), (1471, 10.5), (1474, 6.3), (1477, 18.5), (1480, 9.4), (1483, 3.9),
                 (1486, 13.0), (1489, 7.2), (1492, 25.0), (1495, 5.0), (1498, 12.0), (1501, 17.5), (1504, 6.6),
                 (1507, 9.8), (1510, 4.5), (1513, 14.5), (1516, 8.0), (1519, 26.0), (1522, 5.6), (1525, 11.0),
                 (1528, 18.0), (1531, 7.0), (1534, 4.1), (1537, 12.8), (1540, 9.0), (1543, 21.0), (1546, 6.2),
                 (1549, 15.5),
                 (1400, 1.4), (1418, 2.2), (1432, 1.2), (1448, 1.7), (1462, 0.75), (1478, 1.5), (1492, 2.0),
                 (1508, 1.0), (1522, 1.8), (1538, 1.3), (1549, 0.6), (1541, 2.1), (1466, 1.9)]

fig = plt.figure(figsize=(10.99, 8.79), dpi=100)
ax = fig.add_axes([0.091, 0.0762, 0.8817, 0.8737])

inj = np.array(inj_50_80 + inj_80_115 + inj_115_215 + inj_215_335 + inj_upper_165_335 + inj_335_485
               + inj_tall_columns + inj_485_620 + inj_620_800 + inj_800_1020 + inj_1020_1200
               + inj_1200_1400 + inj_1400_1550)
ax.scatter(inj[:, 0], inj[:, 1] * 1e-24, s=17, c='#0000ff', linewidths=0, zorder=2)

red = '#ff0000'
ax.plot(noise_low_freq, noise_low_strain, color=red, lw=1.0, zorder=3)
ax.fill_between(band_freq, band_lower, band_upper, color=red, lw=1.0, zorder=3)

# spikes start from the band edge
log_bf = np.log10(band_freq)
top_at = lambda f: 10 ** np.interp(np.log10(f), log_bf, np.log10(band_upper))
bot_at = lambda f: 10 ** np.interp(np.log10(f), log_bf, np.log10(band_lower))
ax.vlines(up_freq, top_at(up_freq), up_val, color=red, lw=1.6, zorder=3)
ax.vlines(down_freq, down_val, bot_at(down_freq), color=red, lw=1.6, zorder=3)
ax.vlines(line_freq, top_at(line_freq), line_peak, color=red, lw=1.4, zorder=3)

ax.set_xscale('log')
ax.set_yscale('log')
ax.set_xlim(25, 1e4)
ax.set_ylim(1e-27, 1e-21)
ax.set_xticks([1e2, 1e3, 1e4])
ax.set_yticks([1e-27, 1e-26, 1e-25, 1e-24, 1e-23, 1e-22, 1e-21])

ax.tick_params(which='both', direction='in', top=True, right=True, labelsize=14, pad=5)
ax.tick_params(which='major', length=9, width=1.0)
ax.tick_params(which='minor', length=5, width=0.9)
for sp in ax.spines.values():
    sp.set_linewidth(1.3)

ax.set_title('Strength of Software Injections Compared to S6 Strain for 1\u2212year Integration',
             fontsize=16, pad=13)
ax.set_xlabel('Frequency (Hz)', fontsize=16, labelpad=8)
ax.set_ylabel('Strain (RMS)', fontsize=16)

fig.savefig('out.png', dpi=100)
